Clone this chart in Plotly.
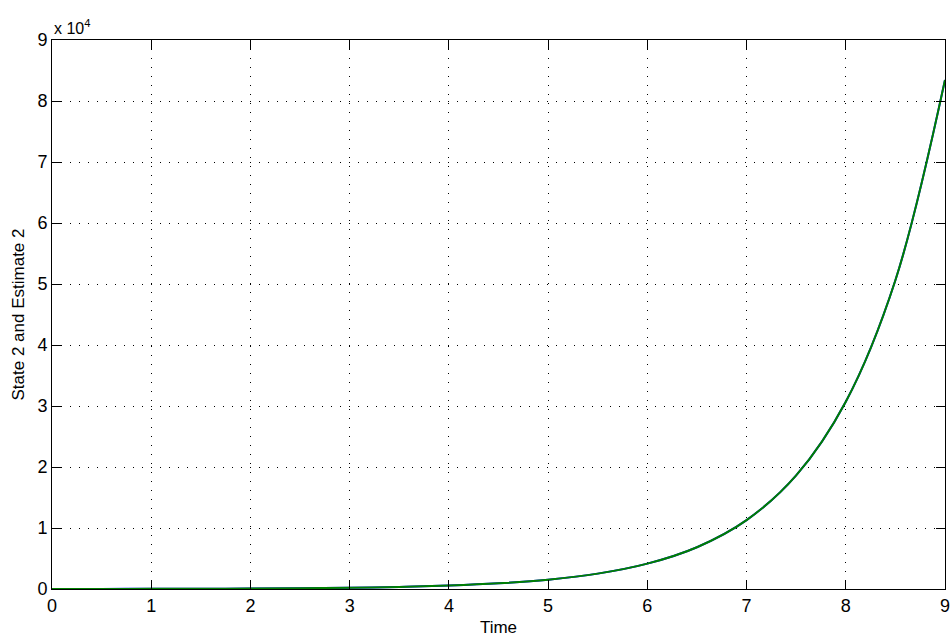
import plotly.graph_objects as go

time = [0, 0.5, 1, 1.5, 2, 2.5, 3, 3.5, 4, 4.5, 5, 5.5, 6, 6.5, 7, 7.5, 8, 8.5, 9]
state2 = [10, 17, 28, 46, 76, 125, 207, 341, 562, 927, 1529, 2520, 4155,
          6851, 11295, 18623, 30703, 50622, 83460]
estimate2 = [0, 14, 26, 45, 75, 124, 206, 340, 562, 927, 1529, 2520, 4155,
             6851, 11295, 18623, 30703, 50622, 83460]

y_tick_vals = [0, 10000, 20000, 30000, 40000, 50000, 60000, 70000, 80000, 90000]
y_tick_text = ["0", "1", "2", "3", "4", "5", "6", "7", "8", "9"]
x_tick_vals = [0, 1, 2, 3, 4, 5, 6, 7, 8, 9]

fig = go.Figure()
fig.add_trace(go.Scatter(x=time, y=state2, mode="lines",
                         line=dict(color="#0000ff", width=2, shape="spline"),
                         name="State 2"))
fig.add_trace(go.Scatter(x=time, y=estimate2, mode="lines",
                         line=dict(color="#008000", width=2, shape="spline"),
                         name="Estimate 2"))

font = "Liberation Sans, Arial, Helvetica, sans-serif"
axis_common = dict(
    showline=True, linecolor="black", linewidth=1, mirror="ticks",
    ticks="inside", ticklen=9, tickcolor="black", tickwidth=1,
    showgrid=True, gridcolor="black", gridwidth=1, griddash="1px,8px",
    zeroline=False, automargin=False, ticklabeloverflow="allow",
    tickfont=dict(family=font, size=18, color="black"),
)

fig.update_layout(
    width=950, height=643,
    margin=dict(l=52, r=5, t=40, b=54),
    paper_bgcolor="white", plot_bgcolor="white",
    showlegend=False,
    font=dict(family=font, color="black"),
    xaxis=dict(range=[0, 9], tickvals=x_tick_vals,
               title=dict(text="Time", font=dict(family=font, size=17), standoff=6),
               **axis_common),
    yaxis=dict(range=[0, 90000], tickvals=y_tick_vals, ticktext=y_tick_text,
               title=dict(text="State 2 and Estimate 2", font=dict(family=font, size=17), standoff=8),
               **axis_common),
    annotations=[dict(text="x 10<sup>4</sup>", xref="paper", yref="paper",
                      x=0, y=1, xanchor="left", yanchor="bottom", showarrow=False,
                      font=dict(family=font, size=16, color="black"), yshift=1)],
)

fig.write_html("out.html", config={"displayModeBar": False},
               post_script="document.body.style.margin='0px';document.body.style.overflow='hidden';")
